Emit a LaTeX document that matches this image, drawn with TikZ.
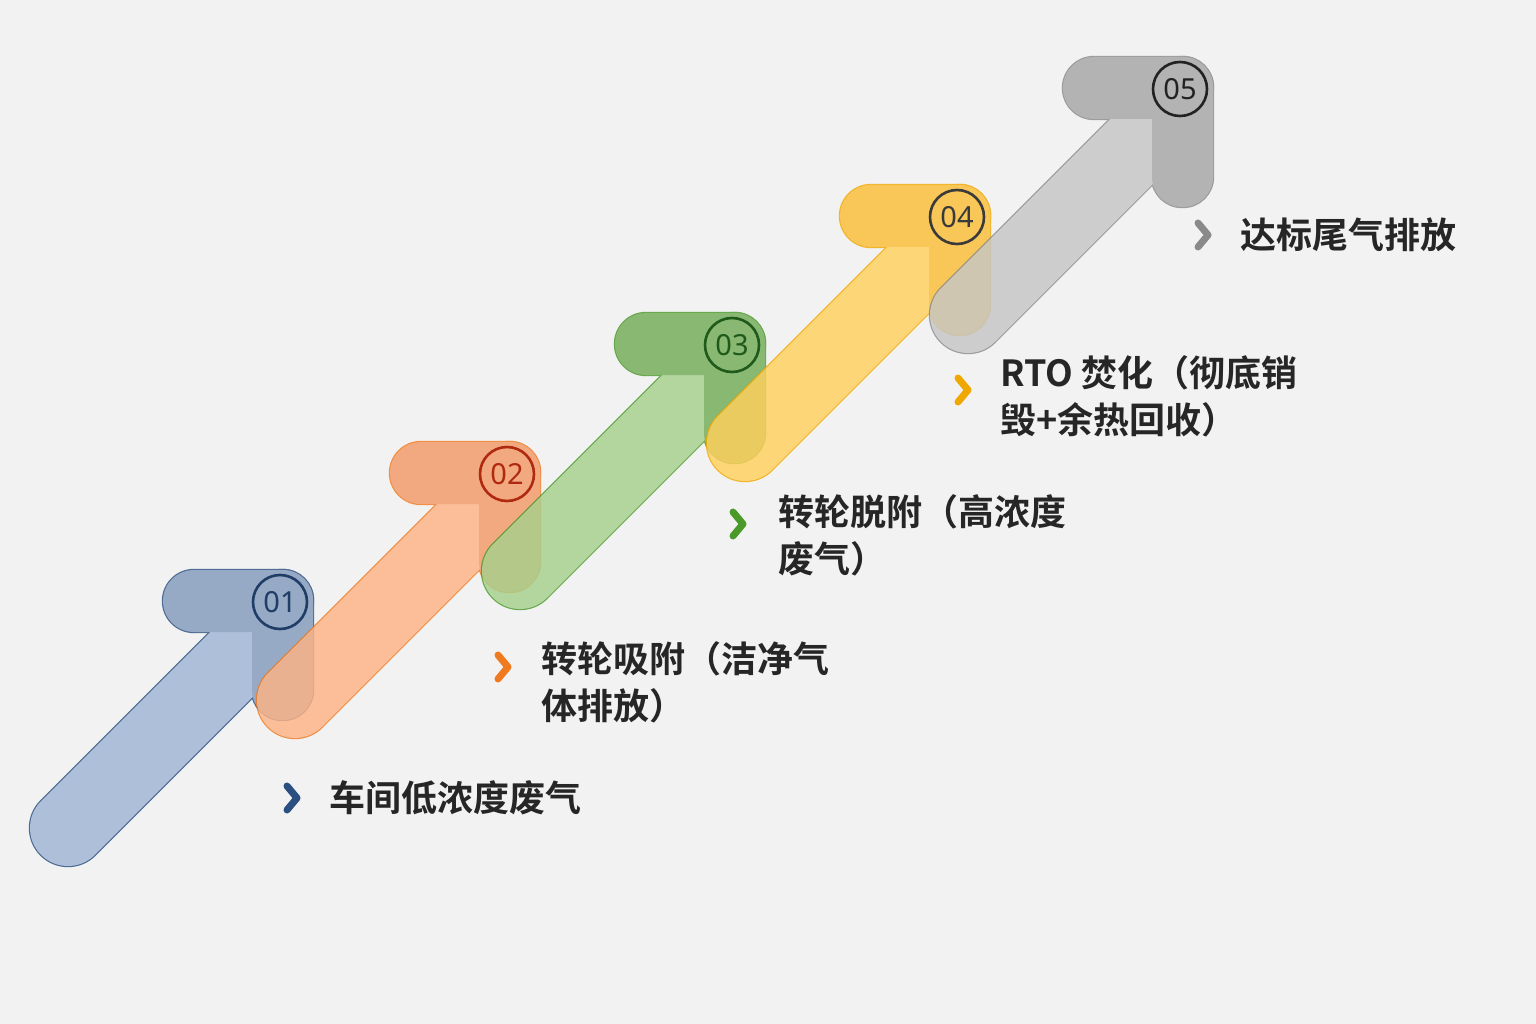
\documentclass[tikz,border=0pt]{standalone}
\usepackage{fontspec}
\setmainfont{Noto Sans}
\newfontfamily\cjk{Noto Sans CJK SC}[BoldFont=* Bold]
\begin{document}
\begin{tikzpicture}[x=1pt,y=-1pt]
\fill[black!5] (0,0) rectangle (1536,1024);
\useasboundingbox (0,0) rectangle (1536,1024);
\tikzset{num/.style={circle,draw=#1,line width=2.6pt,minimum size=54pt,inner sep=0pt,text=#1,font=\fontsize{29}{30}\selectfont},
 lab/.style={anchor=west,align=left,font=\cjk\bfseries\fontsize{36}{47}\selectfont,text=black!85},
 chev/.style={draw=#1,line width=7pt,line cap=round,line join=round}}
% #1 name #2 X #3 Y #4 outline #5 diag fill #6 bar fill #7 number colour #8 text
\newcommand\stepshape[8]{%
\begin{scope}[shift={(#2,#3)},transparency group,opacity=0.82]
 \draw[#4,line width=78.4pt,line cap=round] (-245,258)--(-58,71);
 \draw[#4,line width=2.4pt,rounded corners=31pt] (-150,0) rectangle (0,62);
 \draw[#4,line width=2.4pt,rounded corners=30pt] (-61,0) rectangle (0,150);
 \draw[#5,line width=76pt,line cap=round] (-245,258)--(-58,71);
 \fill[#6,rounded corners=31pt] (-150,0) rectangle (0,62);
 \fill[#6,rounded corners=30pt] (-61,0) rectangle (0,150);
\end{scope}
\node[num=#7] (#1) at (#2-33,#3+32) {#8};}
\definecolor{bo}{HTML}{2A4F80}\definecolor{bd}{HTML}{A0B6D4}\definecolor{bb}{HTML}{8299BC}\definecolor{bn}{HTML}{1F3D66}
\definecolor{oo}{HTML}{F07A20}\definecolor{od}{HTML}{FDB386}\definecolor{ob}{HTML}{F29A66}\definecolor{on}{HTML}{B02A10}
\definecolor{go}{HTML}{4A9A2A}\definecolor{gd}{HTML}{A6D08C}\definecolor{gb}{HTML}{72AC58}\definecolor{gn}{HTML}{1F5A1A}
\definecolor{yo}{HTML}{F0A800}\definecolor{yd}{HTML}{FFD05C}\definecolor{yb}{HTML}{FBBE36}\definecolor{yn}{HTML}{3A3A3A}
\definecolor{ko}{HTML}{8A8A8A}\definecolor{kd}{HTML}{C6C6C6}\definecolor{kb}{HTML}{A6A6A6}\definecolor{kn}{HTML}{222222}
\stepshape{s1}{313}{570}{bo}{bd}{bb}{bn}{01}
\stepshape{s2}{540}{442}{oo}{od}{ob}{on}{02}
\stepshape{s3}{765}{313}{go}{gd}{gb}{gn}{03}
\stepshape{s4}{990}{185}{yo}{yd}{yb}{yn}{04}
\stepshape{s5}{1213}{57}{ko}{kd}{kb}{kn}{05}
% chevrons and labels
\draw[chev=bo] (287,786)--(297,798)--(287,810);
\node[lab] (t1) at (326,798) {车间低浓度废气};
\draw[chev=oo] (498,655)--(508,667)--(498,679);
\node[lab] (t2) at (538,682) {转轮吸附（洁净气\\体排放）};
\draw[chev=go] (733,512)--(743,524)--(733,536);
\node[lab] (t3) at (775,535) {转轮脱附（高浓度\\废气）};
\draw[chev=yo] (958,378)--(968,390)--(958,402);
\node[lab] (t4) at (997,396) {RTO 焚化（彻底销\\毁+余热回收）};
\draw[chev=ko] (1198,223)--(1208,235)--(1198,247);
\node[lab] (t5) at (1237,235) {达标尾气排放};
\end{tikzpicture}
\end{document}
